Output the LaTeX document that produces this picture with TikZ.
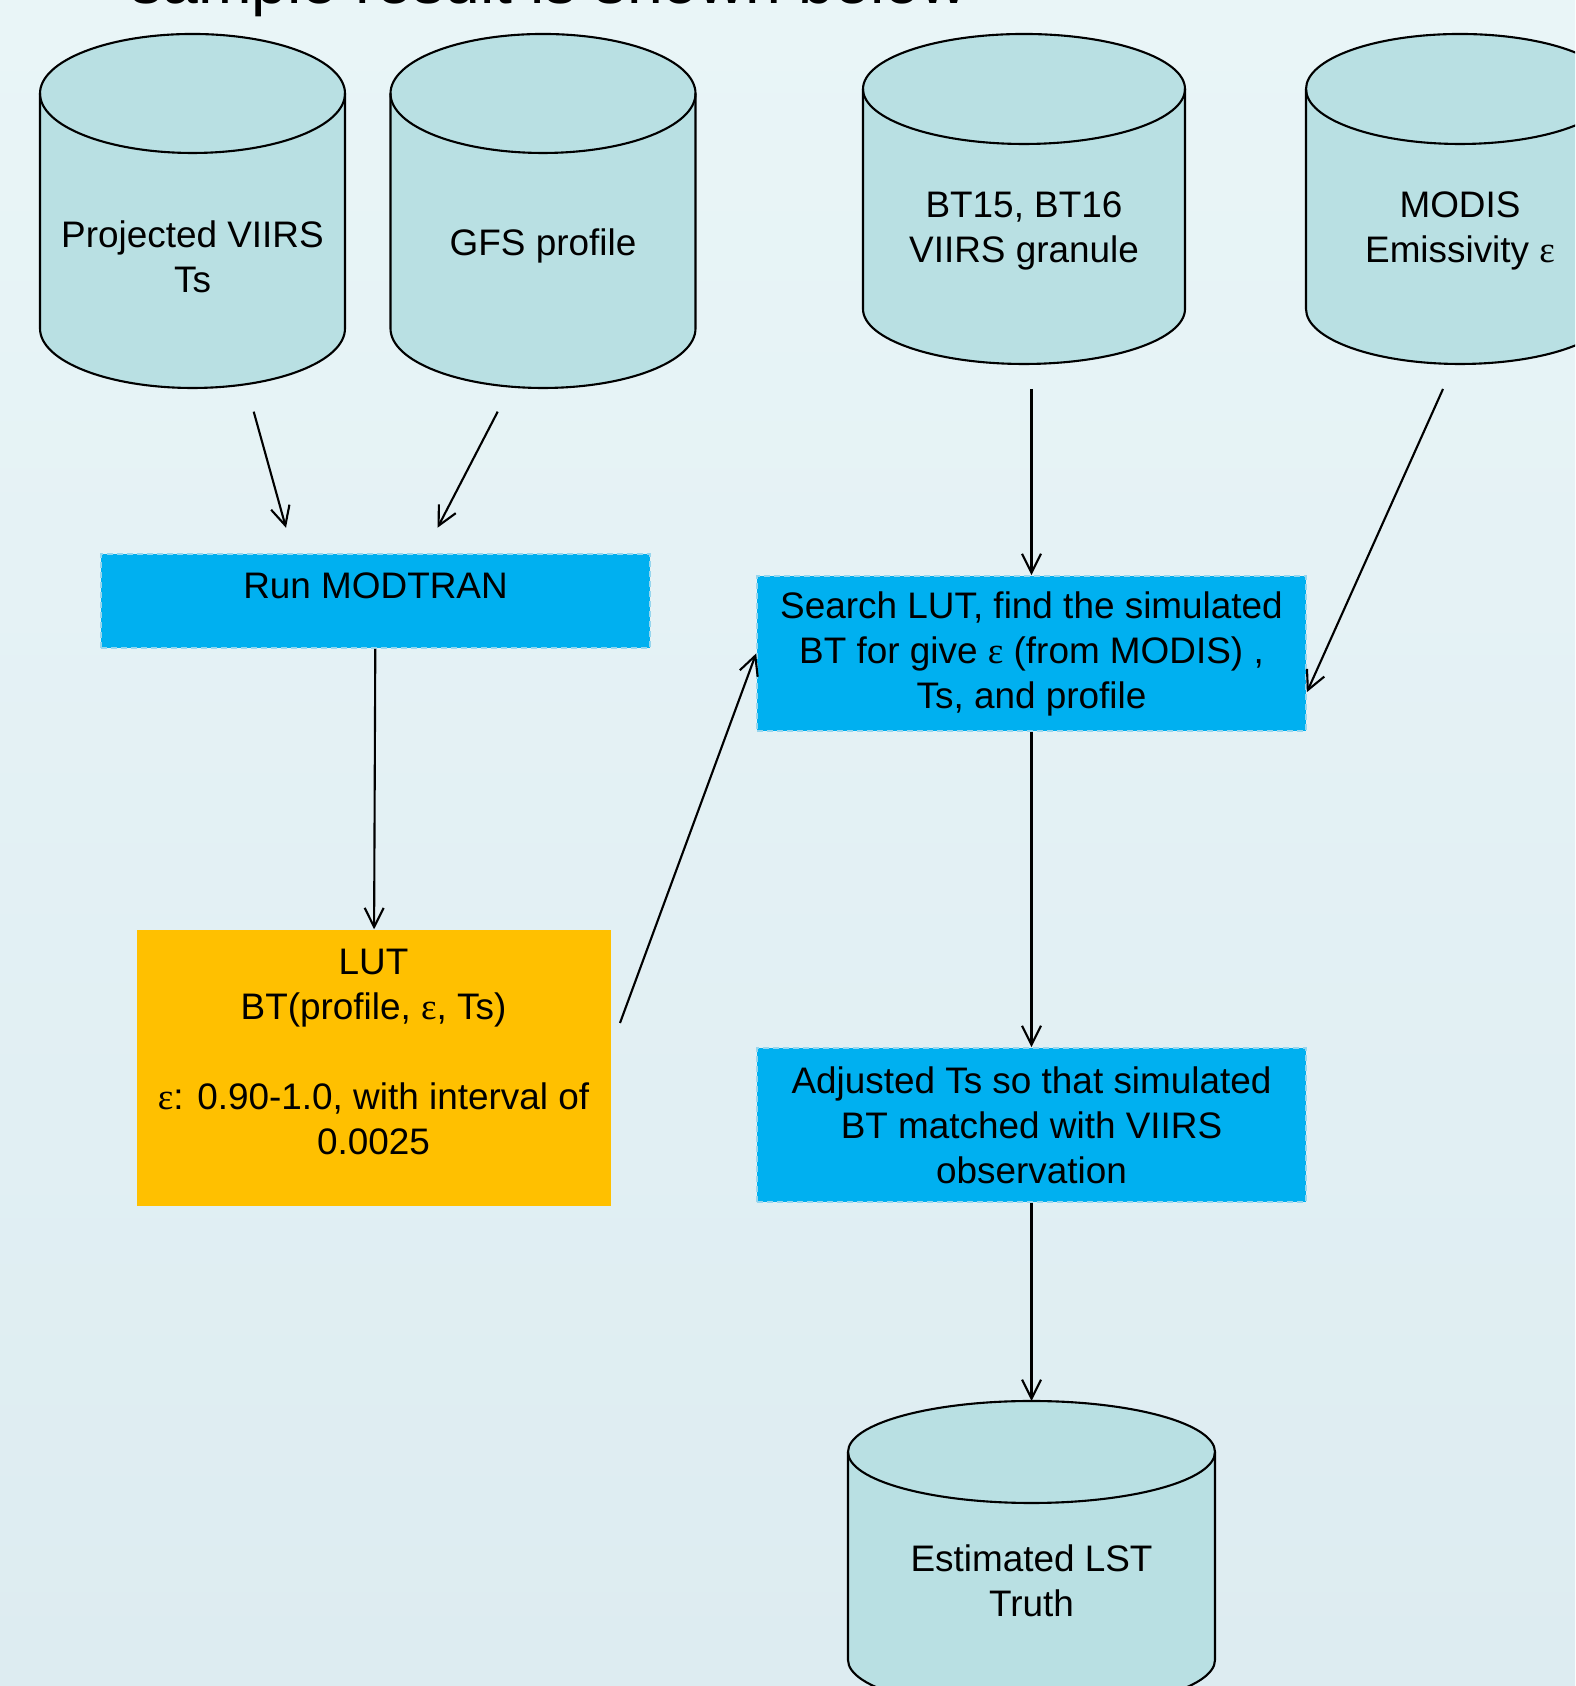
\documentclass[tikz,border=0pt]{standalone}
\usepackage{fontspec}
\setmainfont{Liberation Sans}
\newfontfamily\greekfont{Liberation Serif}
\newcommand{\epsgr}{{\greekfont ε}}
\usepackage{tikz}
\usetikzlibrary{arrows.meta,positioning,shapes}
\definecolor{bgtop}{RGB}{233,245,247}
\definecolor{bgmid}{RGB}{216,236,244}
\definecolor{bgbottom}{RGB}{221,236,241}
\definecolor{canfill}{RGB}{185,224,227}
\definecolor{procfill}{RGB}{0,176,240}
\definecolor{procline}{RGB}{150,214,238}
\definecolor{lutfill}{RGB}{255,192,0}

\begin{document}
\begin{tikzpicture}[
  every node/.style={align=center,font=\fontsize{10.5}{12.8}\selectfont},
  can/.style={draw,line width=0.6pt,fill=canfill},
  store/.style={inner sep=0pt},
  process/.style={draw=procline,dash pattern=on 0.6mm off 0.4mm,line width=0.5pt,fill=procfill,minimum width=5.49cm,inner sep=0pt},
  lutbox/.style={fill=lutfill,inner sep=0pt},
  to/.style={-{Straight Barb[length=1.9mm,width=1.9mm]},line width=0.6pt},
  pics/can/.style args={#1/#2/#3}{code={
      \filldraw[can] (-#1,#2-#3) -- (-#1,-#2+#3) arc[start angle=180,end angle=360,x radius=#1,y radius=#3]
        -- (#1,#2-#3) arc[start angle=0,end angle=180,x radius=#1,y radius=#3] -- cycle;
      \draw[can,fill=none] (-#1,#2-#3) arc[start angle=180,end angle=360,x radius=#1,y radius=#3];
      \coordinate (-top) at (0,#2);
  }}]

    \useasboundingbox (0,0) rectangle (15.75,16.86);
    \shade[top color=bgtop,middle color=bgmid,bottom color=bgbottom] (0,0) rectangle (15.75,16.86);
    \clip (0,0) rectangle (15.75,16.86);

    \node[anchor=base west,font=\fontsize{18.3}{22}\selectfont] (title) at (1.18,16.82) {sample result is shown below};

    % data stores
    \pic (viirsdb) at (1.925,14.75) {can=1.525/1.77/0.595};
    \pic (gfsdb) at (5.43,14.75) {can=1.525/1.77/0.595};
    \pic (grandb) at (10.24,14.87) {can=1.61/1.65/0.55};
    \pic (modisdb) at (14.60,14.87) {can=1.54/1.65/0.55};
    \pic (lstdb) at (10.315,1.30) {can=1.835/1.55/0.51};

    \node[store] (viirs) at (1.925,14.29) {Projected VIIRS\\Ts};
    \node[store] (gfs) at (5.43,14.40) {GFS profile};
    \node[store] (gran) at (10.24,14.55) {BT15, BT16\\VIIRS granule};
    \node[store] (modis) at (14.60,14.55) {MODIS\\Emissivity \epsgr};
    \node[store] (lst) at (10.315,1.05) {Estimated LST\\Truth};

    % processing steps
    \node[process,minimum height=0.94cm,text depth=0.3cm] (modtran) at (3.755,10.85) {Run MODTRAN};
    \node[lutbox,minimum width=4.74cm,minimum height=2.76cm] (lut) at (3.735,6.18)
        {LUT\\BT(profile, \epsgr, Ts)\\[12.8pt]\epsgr: 0.90-1.0, with interval of\\0.0025\\[-3.8pt]\mbox{}};
    \node[process,minimum height=1.55cm] (search) at (10.315,10.325)
        {Search LUT, find the simulated\\BT for give \epsgr{} (from MODIS) ,\\Ts, and profile};
    \node[process,minimum height=1.54cm] (adjust) at (10.315,5.61)
        {Adjusted Ts so that simulated\\BT matched with VIIRS\\observation};

    \coordinate (viirsout) at (2.537,12.743);
    \coordinate (modtranin1) at (2.86,11.582);
    \coordinate (gfsout) at (4.977,12.743);
    \coordinate (modtranin2) at (4.375,11.582);
    \coordinate (lutout) at (6.20,6.63);
    \coordinate (granout) at (10.315,12.97);
    \coordinate (modisout) at (14.43,12.97);

    \draw[to] (viirsout) -- (modtranin1);
    \draw[to] (gfsout) -- (modtranin2);
    \draw[to] (modtran) -- (lut);
    \draw[to] (lutout) -- (search.west);
    \draw[to] (granout) -- (search);
    \draw[to] (modisout) -- (search.-8);
    \draw[to] (search) -- (adjust);
    \draw[to] (adjust) -- (lstdb-top);
\end{tikzpicture}
\end{document}
